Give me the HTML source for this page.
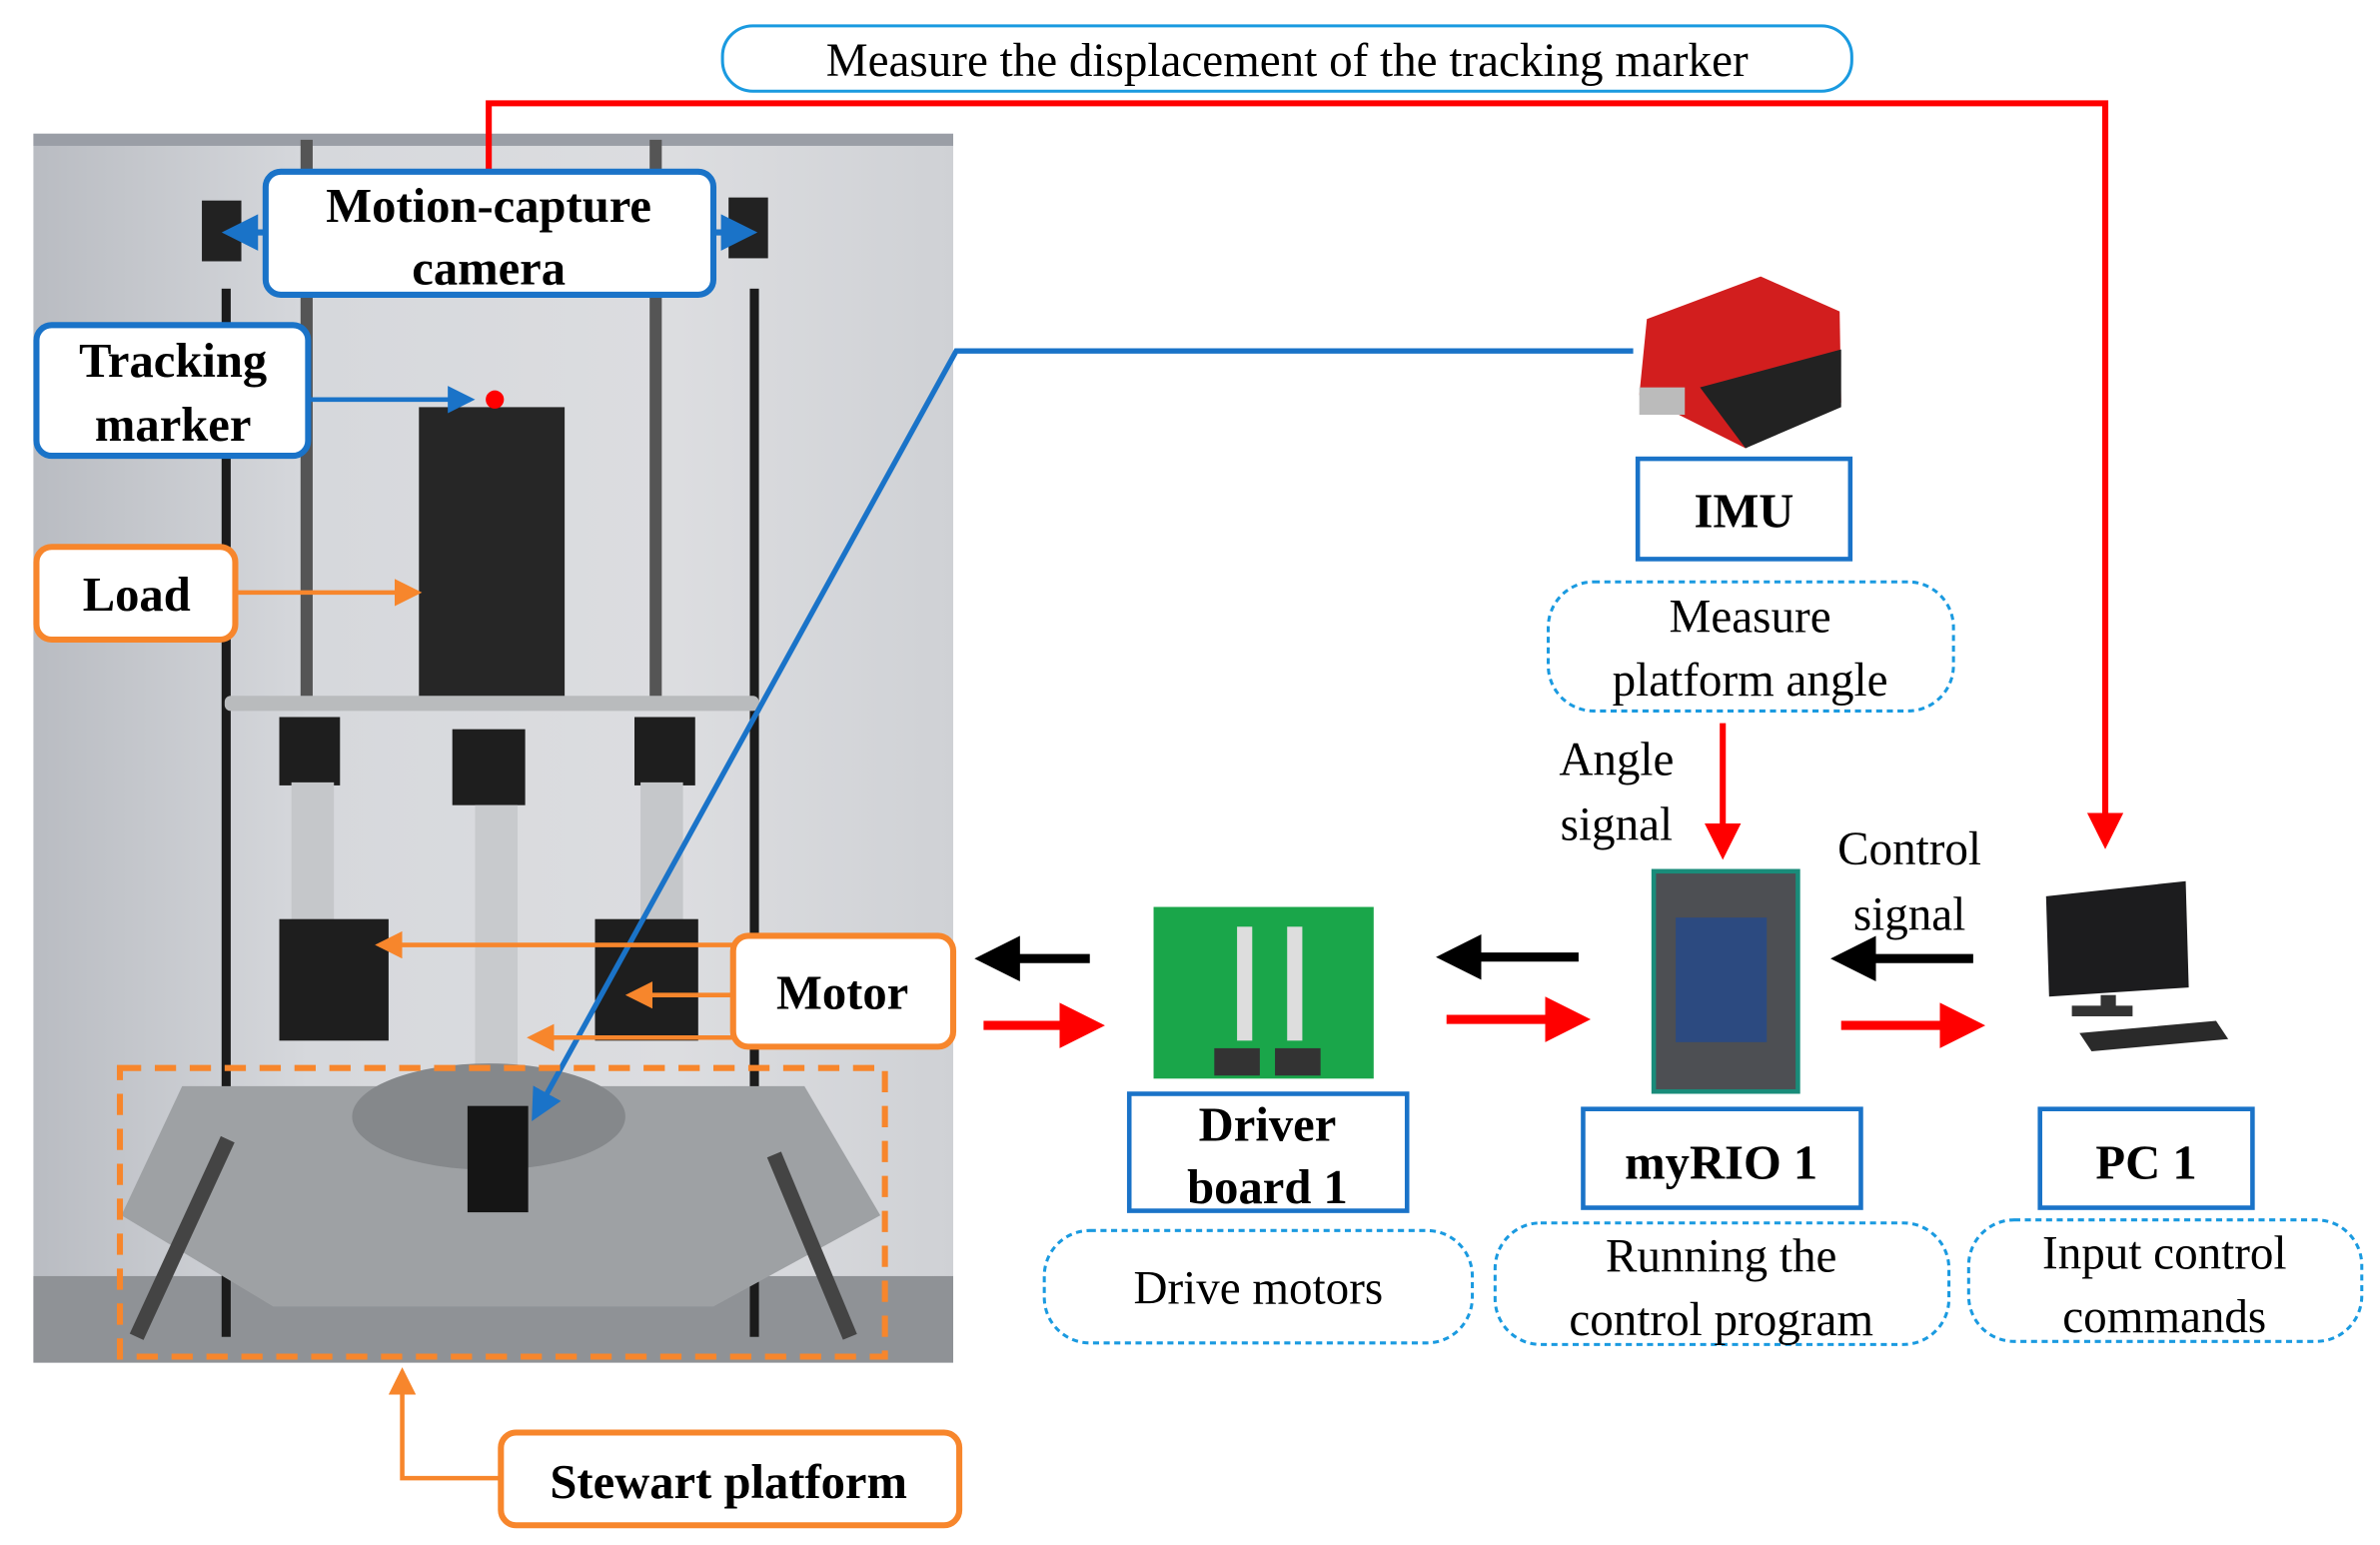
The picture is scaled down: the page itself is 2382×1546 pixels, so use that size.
<!DOCTYPE html>
<html><head><meta charset="utf-8"><style>
html,body{margin:0;padding:0;background:#fff;}
svg{display:block;font-family:"Liberation Serif","Times New Roman",Times,serif;}
svg text{font-family:"Liberation Serif","Times New Roman",Times,serif;}
.b{font-weight:bold;font-size:32px;}
.n{font-size:31px;}
</style></head><body>
<svg width="2382" height="1546" viewBox="0 0 1568 1017" preserveAspectRatio="none" xmlns="http://www.w3.org/2000/svg" font-family="Liberation Serif, Times New Roman, serif">
<defs>
<marker id="ar" markerWidth="6" markerHeight="6" refX="5" refY="3" orient="auto" markerUnits="strokeWidth"><path d="M0,0 L6,3 L0,6 Z" fill="red"/></marker>
<marker id="ab" markerWidth="6" markerHeight="6" refX="5" refY="3" orient="auto" markerUnits="strokeWidth"><path d="M0,0 L6,3 L0,6 Z" fill="#1a73c8"/></marker>
<marker id="ao" markerWidth="6" markerHeight="6" refX="5" refY="3" orient="auto" markerUnits="strokeWidth"><path d="M0,0 L6,3 L0,6 Z" fill="#f7862c"/></marker>
<marker id="ak" markerWidth="5" markerHeight="5" refX="4" refY="2.5" orient="auto" markerUnits="strokeWidth"><path d="M0,0 L5,2.5 L0,5 Z" fill="#000"/></marker>
<marker id="ar2" markerWidth="5" markerHeight="5" refX="4" refY="2.5" orient="auto" markerUnits="strokeWidth"><path d="M0,0 L5,2.5 L0,5 Z" fill="red"/></marker>
<linearGradient id="wall" x1="0" x2="1"><stop offset="0" stop-color="#b9bcc2"/><stop offset="0.3" stop-color="#d6d8dc"/><stop offset="0.7" stop-color="#dcdde0"/><stop offset="1" stop-color="#cfd1d5"/></linearGradient>
</defs>
<rect x="22" y="88" width="606" height="809" fill="url(#wall)"/>
<rect x="22" y="88" width="606" height="8" fill="#9a9ea6"/>
<rect x="22" y="840" width="606" height="57" fill="#8f9296"/>
<rect x="198" y="92" width="8" height="370" fill="#555"/>
<rect x="428" y="92" width="8" height="370" fill="#555"/>
<rect x="146" y="190" width="6" height="690" fill="#1b1b1b"/>
<rect x="494" y="190" width="6" height="690" fill="#1b1b1b"/>
<rect x="133" y="132" width="26" height="40" fill="#222"/>
<rect x="480" y="130" width="26" height="40" fill="#222"/>
<rect x="276" y="268" width="96" height="194" fill="#262626"/>
<rect x="148" y="458" width="352" height="10" rx="4" fill="#b9bbbd"/>
<rect x="184" y="472" width="40" height="45" fill="#1e1e1e"/>
<rect x="418" y="472" width="40" height="45" fill="#1e1e1e"/>
<rect x="298" y="480" width="48" height="50" fill="#1e1e1e"/>
<rect x="192" y="515" width="28" height="110" fill="#c5c7ca"/>
<rect x="422" y="515" width="28" height="110" fill="#c5c7ca"/>
<rect x="313" y="530" width="28" height="200" fill="#c8cacd"/>
<rect x="184" y="605" width="72" height="80" fill="#1e1e1e"/>
<rect x="392" y="605" width="68" height="80" fill="#1e1e1e"/>
<polygon points="120,715 530,715 580,800 470,860 180,860 80,800" fill="#9ea1a4"/>
<ellipse cx="322" cy="735" rx="90" ry="35" fill="#85888b"/>
<rect x="308" y="728" width="40" height="70" fill="#151515"/>
<line x1="90" y1="880" x2="150" y2="750" stroke="#444" stroke-width="10"/>
<line x1="560" y1="880" x2="510" y2="760" stroke="#444" stroke-width="10"/>
<polyline points="322,113 322,68 1387,68 1387,555" fill="none" stroke="red" stroke-width="4" marker-end="url(#ar)"/>
<rect x="476" y="17" width="744" height="43" rx="20" fill="#fff" stroke="#1a9ae0" stroke-width="2"/>
<text x="848" y="50" text-anchor="middle" class="n" font-size="32">Measure the displacement of the tracking marker</text>
<line x1="175" y1="153" x2="150" y2="153" stroke="#1a73c8" stroke-width="4" marker-end="url(#ab)"/>
<line x1="470" y1="153" x2="495" y2="153" stroke="#1a73c8" stroke-width="4" marker-end="url(#ab)"/>
<rect x="175" y="113" width="295" height="81" rx="10" fill="#fff" stroke="#1a73c8" stroke-width="4"/>
<text x="322" y="146" text-anchor="middle" class="b">Motion-capture</text>
<text x="322" y="187" text-anchor="middle" class="b">camera</text>
<line x1="203" y1="263" x2="310" y2="263" stroke="#1a73c8" stroke-width="3" marker-end="url(#ab)"/>
<circle cx="326" cy="263" r="6" fill="red"/>
<rect x="24" y="214" width="179" height="86" rx="10" fill="#fff" stroke="#1a73c8" stroke-width="4"/>
<text x="114" y="248" text-anchor="middle" class="b">Tracking</text>
<text x="114" y="290" text-anchor="middle" class="b">marker</text>
<line x1="155" y1="390" x2="275" y2="390" stroke="#f7862c" stroke-width="3" marker-end="url(#ao)"/>
<rect x="24" y="360" width="131" height="61" rx="10" fill="#fff" stroke="#f7862c" stroke-width="4"/>
<text x="90" y="402" text-anchor="middle" class="b">Load</text>
<polyline points="1076,231 630,231 352,735" fill="none" stroke="#1a73c8" stroke-width="3.5" marker-end="url(#ab)"/>
<line x1="483" y1="622" x2="250" y2="622" stroke="#f7862c" stroke-width="3" marker-end="url(#ao)"/>
<line x1="483" y1="655" x2="415" y2="655" stroke="#f7862c" stroke-width="3" marker-end="url(#ao)"/>
<line x1="483" y1="683" x2="350" y2="683" stroke="#f7862c" stroke-width="3" marker-end="url(#ao)"/>
<rect x="483" y="616" width="145" height="73" rx="10" fill="#fff" stroke="#f7862c" stroke-width="4"/>
<text x="555" y="664" text-anchor="middle" class="b">Motor</text>
<rect x="79" y="703" width="504" height="190" fill="none" stroke="#f7862c" stroke-width="4" stroke-dasharray="14,9"/>
<polyline points="330,973 265,973 265,903" fill="none" stroke="#f7862c" stroke-width="3" marker-end="url(#ao)"/>
<rect x="330" y="943" width="302" height="61" rx="10" fill="#fff" stroke="#f7862c" stroke-width="4"/>
<text x="480" y="986" text-anchor="middle" class="b">Stewart platform</text>
<polygon points="1085,210 1160,182 1212,205 1213,265 1150,295 1080,260" fill="#d21e1e"/>
<polygon points="1120,255 1213,230 1213,268 1150,295" fill="#222"/>
<rect x="1080" y="255" width="30" height="18" fill="#bbb"/>
<rect x="1079" y="302" width="140" height="66" fill="#fff" stroke="#1a73c8" stroke-width="3"/>
<text x="1149" y="347" text-anchor="middle" class="b">IMU</text>
<rect x="1020" y="383" width="267" height="85" rx="30" fill="none" stroke="#1a9ae0" stroke-width="2" stroke-dasharray="4,3"/>
<text x="1153" y="416" text-anchor="middle" class="n">Measure</text>
<text x="1153" y="458" text-anchor="middle" class="n">platform angle</text>
<text x="1065" y="510" text-anchor="middle" class="n">Angle</text>
<text x="1065" y="553" text-anchor="middle" class="n">signal</text>
<line x1="1135" y1="476" x2="1135" y2="562" stroke="red" stroke-width="4" marker-end="url(#ar)"/>
<rect x="1088" y="572" width="98" height="148" fill="#198c7a"/>
<rect x="1091" y="575" width="92" height="142" fill="#4d4f53"/>
<rect x="1104" y="604" width="60" height="82" fill="#2c4a80"/>
<text x="1258" y="569" text-anchor="middle" class="n">Control</text>
<text x="1258" y="612" text-anchor="middle" class="n">signal</text>
<polygon points="1348,590 1440,580 1442,650 1350,656" fill="#1c1c1e"/>
<rect x="1384" y="655" width="10" height="10" fill="#333"/>
<rect x="1365" y="662" width="40" height="7" fill="#333"/>
<polygon points="1370,680 1460,672 1468,684 1378,692" fill="#2a2a2a"/>
<rect x="760" y="597" width="145" height="113" fill="#1aa64a"/>
<rect x="815" y="610" width="10" height="75" fill="#ddd"/>
<rect x="848" y="610" width="10" height="75" fill="#ddd"/>
<rect x="800" y="690" width="30" height="18" fill="#333"/>
<rect x="840" y="690" width="30" height="18" fill="#333"/>
<line x1="1300" y1="631" x2="1212" y2="631" stroke="#000" stroke-width="6" marker-end="url(#ak)"/>
<line x1="1040" y1="630" x2="952" y2="630" stroke="#000" stroke-width="6" marker-end="url(#ak)"/>
<line x1="718" y1="631" x2="648" y2="631" stroke="#000" stroke-width="6" marker-end="url(#ak)"/>
<line x1="648" y1="675" x2="722" y2="675" stroke="red" stroke-width="6" marker-end="url(#ar2)"/>
<line x1="953" y1="671" x2="1042" y2="671" stroke="red" stroke-width="6" marker-end="url(#ar2)"/>
<line x1="1213" y1="675" x2="1302" y2="675" stroke="red" stroke-width="6" marker-end="url(#ar2)"/>
<rect x="744" y="720" width="183" height="77" fill="#fff" stroke="#1a73c8" stroke-width="3"/>
<text x="835" y="751" text-anchor="middle" class="b">Driver</text>
<text x="835" y="792" text-anchor="middle" class="b">board 1</text>
<rect x="1043" y="730" width="183" height="65" fill="#fff" stroke="#1a73c8" stroke-width="3"/>
<text x="1134" y="776" text-anchor="middle" class="b">myRIO 1</text>
<rect x="1344" y="730" width="140" height="65" fill="#fff" stroke="#1a73c8" stroke-width="3"/>
<text x="1414" y="776" text-anchor="middle" class="b">PC 1</text>
<rect x="688" y="810" width="282" height="74" rx="30" fill="none" stroke="#1a9ae0" stroke-width="2" stroke-dasharray="4,3"/>
<text x="829" y="858" text-anchor="middle" class="n">Drive motors</text>
<rect x="985" y="805" width="299" height="80" rx="30" fill="none" stroke="#1a9ae0" stroke-width="2" stroke-dasharray="4,3"/>
<text x="1134" y="837" text-anchor="middle" class="n">Running the</text>
<text x="1134" y="879" text-anchor="middle" class="n">control program</text>
<rect x="1297" y="803" width="259" height="80" rx="30" fill="none" stroke="#1a9ae0" stroke-width="2" stroke-dasharray="4,3"/>
<text x="1426" y="835" text-anchor="middle" class="n">Input control</text>
<text x="1426" y="877" text-anchor="middle" class="n">commands</text>
</svg>
</body></html>
